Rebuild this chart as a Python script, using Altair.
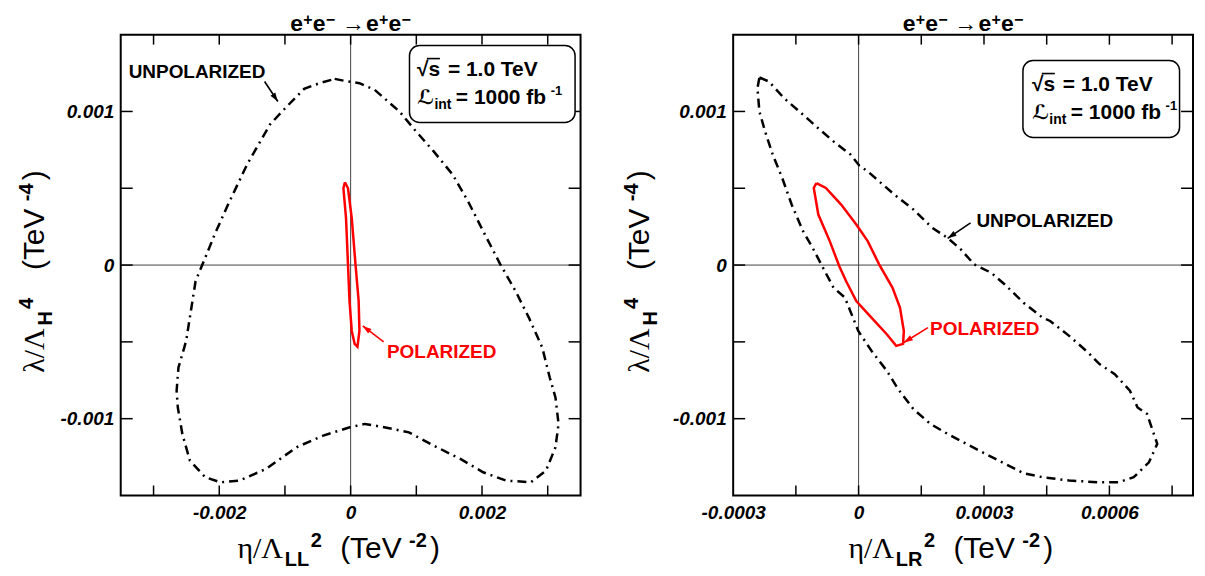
import altair as alt
import pandas as pd

# ---------------- values ----------------
# Left panel: eta/Lambda_LL^2 (x) vs lambda/Lambda_H^4 (y)
LL_UNPOL_X = [-0.000243, -0.000040, 0.000134, 0.000365, 0.000743, 0.000974, 0.001264, 0.001553,
              0.001786, 0.002017, 0.002278, 0.002510, 0.002713, 0.002917, 0.003031, 0.003118,
              0.003165, 0.003118, 0.002974, 0.002743, 0.002365, 0.002017, 0.001670, 0.001264,
              0.000887, 0.000510, 0.000221, -0.000012, -0.000417, -0.000823, -0.001287, -0.001692,
              -0.001983, -0.002214, -0.002447, -0.002562, -0.002631, -0.002649, -0.002621, -0.002504,
              -0.002360, -0.002214, -0.002070, -0.001866, -0.001577, -0.001230, -0.000997, -0.000708,
              -0.000475]
LL_UNPOL_Y = [0.001212, 0.001195, 0.001184, 0.001141, 0.001000, 0.000881, 0.000740, 0.000589,
              0.000416, 0.000221, 0.000005, -0.000169, -0.000342, -0.000537, -0.000732, -0.000862,
              -0.001034, -0.001186, -0.001338, -0.001414, -0.001403, -0.001349, -0.001262, -0.001175,
              -0.001089, -0.001056, -0.001034, -0.001056, -0.001110, -0.001186, -0.001327, -0.001403,
              -0.001414, -0.001381, -0.001273, -0.001099, -0.000927, -0.000818, -0.000667, -0.000494,
              -0.000104, 0.000047, 0.000199, 0.000394, 0.000654, 0.000914, 0.001021, 0.001147,
              0.001184]
LL_POL_X = [-0.000087, -0.000110, -0.000070, -0.000040, -0.000017, 0.000017, 0.000061, 0.000104,
            0.000134, 0.000122, 0.000075, 0.000017, -0.000040]
LL_POL_Y = [0.000539, 0.000500, 0.000305, 0.000000, -0.000234, -0.000429, -0.000513, -0.000532,
            -0.000429, -0.000234, 0.000000, 0.000305, 0.000500]

# Right panel: eta/Lambda_LR^2 (x) vs lambda/Lambda_H^4 (y)
LR_UNPOL_X = [-0.0002373, -0.0002146, -0.0001781, -0.0001328, -0.0000963, -0.0000600, -0.0000191,
              0.0000019, 0.0000218, 0.0000491, 0.0000854, 0.0001309, 0.0001765, 0.0002127,
              0.0002446, 0.0002763, 0.0003172, 0.0003491, 0.0003946, 0.0004399, 0.0004582,
              0.0005037, 0.0005490, 0.0005763, 0.0006128, 0.0006491, 0.0006674, 0.0006900,
              0.0007036, 0.0007145, 0.0006946, 0.0006581, 0.0006218, 0.0005763, 0.0005037,
              0.0004399, 0.0003946, 0.0003035, 0.0002127, 0.0001718, 0.0001309, 0.0000946,
              0.0000674, 0.0000308, -0.0000008, -0.0000327, -0.0000600, -0.0000873, -0.0001099,
              -0.0001328, -0.0001601, -0.0001827, -0.0002054, -0.0002236, -0.0002373, -0.0002419]
LR_UNPOL_Y = [0.001221, 0.001195, 0.001086, 0.000979, 0.000890, 0.000805, 0.000719,
              0.000647, 0.000610, 0.000545, 0.000459, 0.000362, 0.000242, 0.000177,
              0.000102, 0.000005, -0.000050, -0.000125, -0.000245, -0.000342, -0.000364,
              -0.000461, -0.000569, -0.000645, -0.000710, -0.000818, -0.000927, -0.000969,
              -0.001078, -0.001164, -0.001284, -0.001381, -0.001414, -0.001414, -0.001403,
              -0.001381, -0.001355, -0.001229, -0.001099, -0.001034, -0.000937, -0.000807,
              -0.000688, -0.000558, -0.000429, -0.000212, -0.000147, -0.000006, 0.000112,
              0.000221, 0.000394, 0.000567, 0.000719, 0.000870, 0.001000, 0.001151]
LR_POL_X = [-0.0001009, -0.0000783, -0.0000417, -0.0000055, 0.0000218, 0.0000491, 0.0000810,
            0.0000990, 0.0001083, 0.0001064, 0.0000900, 0.0000674, 0.0000308, -0.0000055,
            -0.0000300, -0.0000464, -0.0000690, -0.0000963, -0.0001072]
LR_POL_Y = [0.000534, 0.000502, 0.000394, 0.000264, 0.000156, 0.000005, -0.000147,
            -0.000277, -0.000429, -0.000513, -0.000526, -0.000450, -0.000342, -0.000234,
            -0.000104, -0.000006, 0.000156, 0.000329, 0.000502]

# axes
Y_DOMAIN = [-0.0015, 0.0015]
LL_DOMAIN = [-0.0035, 0.0035]
LR_DOMAIN = [-0.0003, 0.0008]
Y_TICKS = [-0.001, -0.0005, 0.0, 0.0005, 0.001]
Y_LABELS = [-0.001, 0.0, 0.001]
LL_TICKS = [-0.003, -0.002, -0.001, 0.0, 0.001, 0.002, 0.003]
LL_LABELS = [-0.002, 0.0, 0.002]
LR_TICKS = [-0.00015, 0.0, 0.00015, 0.0003, 0.00045, 0.0006, 0.00075]
LR_LABELS = [-0.0003, 0.0, 0.0003, 0.0006]

# annotation anchors (data coordinates): label centre, arrow tail -> head
LL_UNPOL_TEXT = (-0.002338, 0.001255)
LL_UNPOL_ARROW = (-0.00131, 0.001195, -0.001108, 0.001065)
LL_POL_TEXT = (0.001386, -0.000563)
LL_POL_ARROW = (0.000503, -0.000500, 0.000184, -0.000396)
LR_UNPOL_TEXT = (0.0004454, 0.000286)
LR_UNPOL_ARROW = (0.0002678, 0.000275, 0.0002131, 0.000174)
LR_POL_TEXT = (0.000302, -0.000418)
LR_POL_ARROW = (0.0001659, -0.000407, 0.0001086, -0.000504)

# ---------------- chart ----------------
W, H = 461, 462
SANS = "Liberation Sans"
SERIF = "Liberation Serif"
RED = "#ff0000"
ARROW_SHAPE = "M0,0L-0.55,1.7L0.55,1.7Z"
ONE = pd.DataFrame({"k": [0]})


def txt(s, x, y, size, weight="bold", font=SANS, color="black", angle=None,
        align="left", baseline="alphabetic"):
    kw = dict(text=s, align=align, baseline=baseline, fontSize=size,
              fontWeight=weight, font=font, color=color)
    if angle is not None:
        kw["angle"] = angle
    return alt.Chart(ONE).mark_text(**kw).encode(x=alt.value(x), y=alt.value(y))


def loop(xs, ys):
    n = len(xs)
    return pd.DataFrame({"x": list(xs) + [xs[0]], "y": list(ys) + [ys[0]],
                         "i": list(range(n + 1))})


def panel(xdom, xticks, xlabels, unpol, pol, ut, ua, uang, pt, pa, pang,
          sub, wsub, ybx, xx0, box, tl, b1, b2, anchor):
    common = dict(title=None, ticks=False, tickSize=0, domain=False, grid=False,
                  labelFont=SANS, labelFontSize=19, labelFontWeight="bold",
                  labelFontStyle="italic", labelColor="black",
                  labelExpr="toString(datum.value)", labelFlush=False,
                  labelOverlap=False)
    X = alt.X("x:Q", scale=alt.Scale(domain=xdom, nice=False, zero=False),
              axis=alt.Axis(values=xlabels, labelPadding=8, **common))
    Y = alt.Y("y:Q", scale=alt.Scale(domain=Y_DOMAIN, nice=False, zero=False),
              axis=alt.Axis(values=Y_LABELS, labelPadding=7, **common))

    L = []
    # zero lines
    L.append(alt.Chart(pd.DataFrame({"x": [0.0]})).mark_rule(color="#444", strokeWidth=1).encode(x=X))
    L.append(alt.Chart(pd.DataFrame({"y": [0.0]})).mark_rule(color="#444", strokeWidth=1).encode(y=Y))
    # inward ticks on all four sides
    xt = pd.DataFrame({"x": xticks})
    yt = pd.DataFrame({"y": Y_TICKS})
    tk = dict(color="black", strokeWidth=1.5)
    L += [
        alt.Chart(xt).mark_rule(**tk).encode(x=X, y=alt.value(H), y2=alt.value(H - 10)),
        alt.Chart(xt).mark_rule(**tk).encode(x=X, y=alt.value(0), y2=alt.value(10)),
        alt.Chart(yt).mark_rule(**tk).encode(y=Y, x=alt.value(0), x2=alt.value(12)),
        alt.Chart(yt).mark_rule(**tk).encode(y=Y, x=alt.value(W - 12), x2=alt.value(W)),
    ]
    # curves
    L.append(alt.Chart(loop(*unpol)).mark_line(color="black", strokeWidth=2.5,
                                               strokeDash=[9, 5, 2, 5], strokeCap="butt")
             .encode(x=X, y=Y, order="i:Q"))
    L.append(alt.Chart(loop(*pol)).mark_line(color=RED, strokeWidth=2.5)
             .encode(x=X, y=Y, order="i:Q"))

    # annotations
    def arrow(a, ang, color):
        df = pd.DataFrame({"x": [a[0]], "y": [a[1]], "x2": [a[2]], "y2": [a[3]]})
        hd = pd.DataFrame({"x": [a[2]], "y": [a[3]]})
        return [
            alt.Chart(df).mark_rule(color=color, strokeWidth=1.6).encode(x=X, y=Y, x2="x2:Q", y2="y2:Q"),
            alt.Chart(hd).mark_point(shape=ARROW_SHAPE, filled=True, size=110, angle=ang,
                                     color=color, opacity=1, strokeWidth=0).encode(x=X, y=Y),
        ]

    def label(p, s, color):
        return alt.Chart(pd.DataFrame({"x": [p[0]], "y": [p[1]]})).mark_text(
            text=s, fontSize=19, fontWeight="bold", font=SANS, color=color,
            align="center", baseline="middle").encode(x=X, y=Y)

    L += arrow(ua, uang, "black") + arrow(pa, pang, RED)
    L += [label(ut, "UNPOLARIZED", "black"), label(pt, "POLARIZED", RED)]

    # legend box
    bx0, bx1, by0, by1 = box
    L.append(alt.Chart(ONE).mark_rect(fill="white", stroke="black", strokeWidth=1.5,
                                      cornerRadius=10)
             .encode(x=alt.value(bx0), x2=alt.value(bx1), y=alt.value(by0), y2=alt.value(by1)))
    L += [
        txt("√s", tl, b1, 21),
        alt.Chart(ONE).mark_rule(color="black", strokeWidth=1.6).encode(
            x=alt.value(tl + 10), x2=alt.value(tl + 23), y=alt.value(b1 - 17), y2=alt.value(b1 - 17)),
        txt("= 1.0 TeV", tl + 31, b1, 21),
        txt("ℒ", tl, b2, 20, font="DejaVu Sans"),
        txt("int", tl + 17.5, b2 + 5, 14),
        txt("= 1000 fb", tl + 39, b2, 21),
        txt("-1", tl + 134, b2 - 9, 13),
    ]

    # panel title  e+e- -> e+e-
    L += [
        txt("e", 170, -4, 23), txt("+", 183, -10, 16), txt("e", 192.5, -4, 23),
        txt("−", 205.5, -10, 16), txt("→", 222, -4, 23, weight="normal"),
        txt("e", 246, -4, 23), txt("+", 259, -10, 16), txt("e", 268.5, -4, 23),
        txt("−", 281.5, -10, 16),
    ]

    # x axis title  eta/Lambda_sub^2  (TeV -2)
    dR = wsub - 24.4
    L += [
        txt("η/Λ", xx0, 525, 30, weight="normal", font=SERIF),
        txt(sub, xx0 + 47.5, 533, 20),
        txt("2", xx0 + 47.5 + wsub + 1.5, 514, 20),
        txt("(TeV", xx0 + 103 + dR, 525, 30, weight="normal"),
        txt("-2", xx0 + 172 + dR, 514, 20),
        txt(")", xx0 + 193 + dR, 525, 30, weight="normal"),
    ]
    # y axis title  lambda/Lambda_H^4  (TeV -4), rotated
    y0 = 339
    L += [
        txt("λ/Λ", ybx, y0, 30, weight="normal", font=SERIF, angle=270),
        txt("H", ybx + 8, y0 - 47.5, 20, angle=270),
        txt("4", ybx - 11, y0 - 64, 20, angle=270),
        txt("(TeV", ybx, y0 - 103, 30, weight="normal", angle=270),
        txt("-4", ybx - 11, y0 - 172, 20, angle=270),
        txt(")", ybx, y0 - 193, 30, weight="normal", angle=270),
    ]
    if anchor:
        L.append(alt.Chart(ONE).mark_point(size=1, opacity=0).encode(
            x=alt.value(-111), y=alt.value(-24.5)))
    return alt.layer(*L).properties(width=W, height=H)


left = panel(LL_DOMAIN, LL_TICKS, LL_LABELS, (LL_UNPOL_X, LL_UNPOL_Y), (LL_POL_X, LL_POL_Y),
             LL_UNPOL_TEXT, LL_UNPOL_ARROW, 146, LL_POL_TEXT, LL_POL_ARROW, 307,
             "LL", 24.4, -76.5, 117, (289.5, 455.5, 11, 88), 297, 41, 70, True)
right = panel(LR_DOMAIN, LR_TICKS, LR_LABELS, (LR_UNPOL_X, LR_UNPOL_Y), (LR_POL_X, LR_POL_Y),
              LR_UNPOL_TEXT, LR_UNPOL_ARROW, 236, LR_POL_TEXT, LR_POL_ARROW, 238,
              "LR", 26.7, -84.5, 115.5, (290.5, 447.5, 26, 103), 299.5, 56, 85, False)

chart = alt.hconcat(left, right, spacing=153, bounds="flush",
                    padding={"left": 0, "top": 0, "right": 2, "bottom": 2}
                    ).configure_view(stroke="black", strokeWidth=2)

chart.save("out.html", embed_options={"renderer": "svg", "actions": False})
